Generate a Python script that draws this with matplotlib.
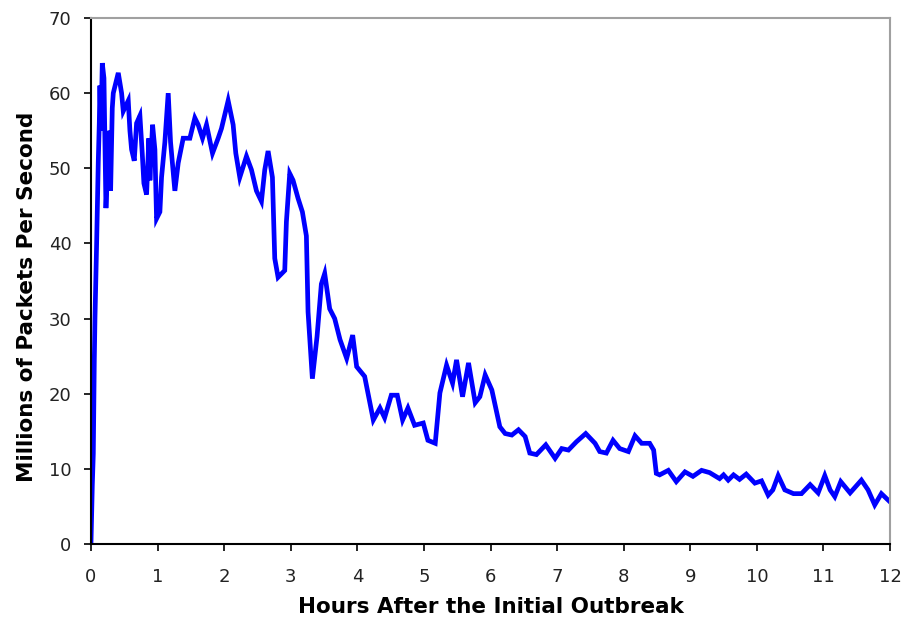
import matplotlib
matplotlib.use("Agg")
import matplotlib.pyplot as plt

hours = [0.0, 0.02, 0.035, 0.05, 0.06, 0.085, 0.11, 0.125, 0.135, 0.15, 0.17, 0.195, 0.225, 0.26, 0.285,
         0.295, 0.32, 0.335, 0.41, 0.46, 0.485, 0.56, 0.585, 0.61, 0.65, 0.685, 0.735, 0.77, 0.795,
         0.835, 0.87, 0.885, 0.925, 0.96, 0.985, 1.035, 1.06, 1.11, 1.16, 1.195, 1.26, 1.31, 1.385,
         1.485, 1.56, 1.61, 1.675, 1.735, 1.825, 1.91, 1.96, 2.06, 2.135, 2.175, 2.235, 2.335, 2.41,
         2.485, 2.56, 2.61, 2.66, 2.725, 2.76, 2.81, 2.91, 2.935, 2.985, 3.035, 3.11, 3.175, 3.235,
         3.26, 3.325, 3.395, 3.46, 3.51, 3.585, 3.66,
         3.74, 3.84, 3.93, 3.99, 4.11, 4.24, 4.34, 4.41, 4.51, 4.6, 4.68, 4.76, 4.86, 4.99, 5.06,
         5.17, 5.24, 5.34, 5.43, 5.49, 5.58, 5.67, 5.77, 5.84, 5.92, 6.02, 6.14, 6.22, 6.32, 6.42,
         6.52, 6.59, 6.69, 6.83, 6.97, 7.07, 7.17, 7.29, 7.43, 7.57,
         7.64, 7.74, 7.84, 7.94, 8.07, 8.17, 8.27, 8.39, 8.45, 8.49, 8.54, 8.67, 8.79, 8.92, 9.04,
         9.17, 9.29, 9.44, 9.5, 9.57, 9.65, 9.74, 9.84, 9.97, 10.07, 10.17, 10.24, 10.32, 10.42,
         10.55, 10.67, 10.8, 10.92, 11.02, 11.1, 11.17, 11.26, 11.4, 11.57, 11.67, 11.77, 11.87, 12.0]

packets = [0.0, 7.8, 12.0, 24.4, 30.0, 40.0, 51.0, 56.0, 61.0, 55.0, 64.0, 62.0, 44.7, 52.0, 55.0,
           47.0, 58.0, 60.0, 62.7, 60.0, 57.6, 59.0, 55.0, 52.5, 51.0, 56.0, 57.0, 52.0, 48.0,
           46.5, 54.0, 48.4, 55.8, 52.5, 43.3, 44.2, 48.8, 53.5, 60.0, 53.5, 47.0, 50.7, 54.0,
           54.0, 56.7, 55.8, 54.0, 55.8, 52.0, 54.0, 55.3, 59.0, 55.8, 52.0, 48.8, 51.6, 49.8,
           47.0, 45.6, 49.8, 52.3, 48.8, 38.0, 35.5, 36.4, 42.9, 49.3, 48.4, 46.0, 44.2, 41.0,
           30.9, 22.0, 27.6, 34.6, 36.0, 31.3, 30.0,
           27.2, 24.7, 27.8, 23.6, 22.3, 16.5, 18.1, 16.8, 19.8, 19.8, 16.5, 18.1, 15.8, 16.1, 13.8,
           13.4, 20.1, 23.8, 21.4, 24.5, 19.6, 24.1, 18.8, 19.6, 22.5, 20.5, 15.6, 14.7, 14.5, 15.2,
           14.3, 12.1, 11.9, 13.2, 11.4, 12.7, 12.5, 13.6, 14.7, 13.4,
           12.3, 12.1, 13.8, 12.7, 12.3, 14.4, 13.4, 13.4, 12.5, 9.4, 9.2, 9.8, 8.3, 9.6, 9.0,
           9.8, 9.5, 8.7, 9.2, 8.5, 9.2, 8.6, 9.3, 8.1, 8.4, 6.5, 7.2, 9.1, 7.2,
           6.7, 6.7, 7.9, 6.8, 9.1, 7.2, 6.3, 8.3, 6.8, 8.5, 7.2, 5.2, 6.7, 5.6]

x_ticks = list(range(0, 13))
y_ticks = list(range(0, 71, 10))

fig = plt.figure(figsize=(9.17, 6.21), dpi=100)
ax = fig.add_axes([0.0992, 0.124, 0.8714, 0.847])
ax.plot(hours, packets, color="#0000ff", lw=3.4, solid_joinstyle="miter")

ax.set_xlim(0, 12)
ax.set_ylim(0, 70)
ax.set_xticks(x_ticks)
ax.set_yticks(y_ticks)
ax.tick_params(axis="both", direction="out", length=5, width=1.2, labelsize=13,
               colors="black", labelcolor="#222222")
ax.tick_params(axis="x", pad=12)
ax.tick_params(axis="y", pad=9)

for s in ["left", "bottom"]:
    ax.spines[s].set_color("black")
    ax.spines[s].set_linewidth(1.5)
for s in ["top", "right"]:
    ax.spines[s].set_color("#a0a0a0")
    ax.spines[s].set_linewidth(1.5)

ax.set_xlabel("Hours After the Initial Outbreak", fontsize=15.5, fontweight="bold")
ax.set_ylabel("Millions of Packets Per Second", fontsize=15.5, fontweight="bold")
ax.xaxis.set_label_coords(0.5006, -0.1)
ax.yaxis.set_label_coords(-0.068, 0.47)

fig.savefig("out.png", dpi=100)
